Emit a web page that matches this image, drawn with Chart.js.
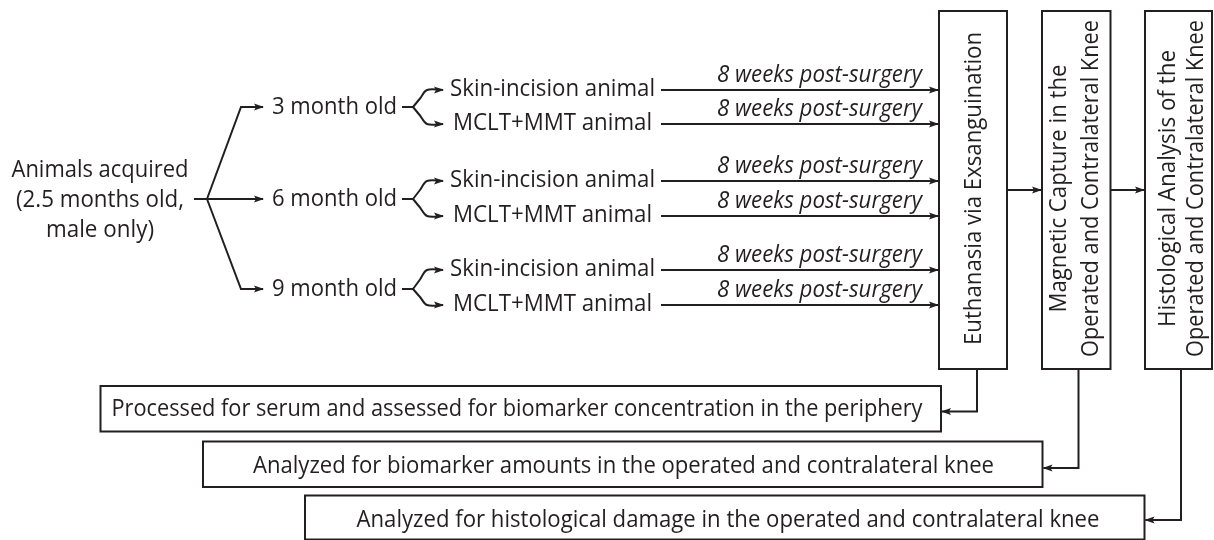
<!DOCTYPE html>
<html>
<head>
<meta charset="utf-8">
<style>
  html, body { margin: 0; padding: 0; background: #fff; }
  #flow { display: block; }
</style>
<script src="https://cdn.jsdelivr.net/npm/chart.js@4/dist/chart.umd.min.js"></script>
</head>
<body>
<canvas id="flow" width="1214" height="540"></canvas>
<script>
const sourceLines = ['Animals acquired', '(2.5 months old,', 'male only)'];
const ageGroups = ['3 month old', '6 month old', '9 month old'];
const treatmentArms = ['Skin-incision animal', 'MCLT+MMT animal'];
const followUp = '8 weeks post-surgery';
const stageLines = [
  ['Euthanasia via Exsanguination'],
  ['Magnetic Capture in the', 'Operated and Contralateral Knee'],
  ['Histological Analysis of the', 'Operated and Contralateral Knee'],
];
const outcomes = [
  'Processed for serum and assessed for biomarker concentration in the periphery',
  'Analyzed for biomarker amounts in the operated and contralateral knee',
  'Analyzed for histological damage in the operated and contralateral knee',
];

// layout in canvas units (x 0-1214, y 0-540 from the top)
const layout = {
  source: { x: 100, y: [170, 200, 230], w: [177, 168, 108] },
  fork: { stub: 194, branch: 207, elbow: 241, tip: 263 },
  ageY: [107, 199, 289],
  age: { x: 334.5, w: 125, stubStart: 402, stubEnd: 413, bend: 420, tip: 443 },
  armY: [[90, 124], [181, 216], [270, 305]],
  arm: { x: 552.5, w: [205, 199], lineStart: 661, lineEnd: 938 },
  followUp: { x: 819.5, w: 205, dy: -15 },
  stageTop: 11,
  stageBottom: 369,
  stageLinkY: 190,
  stages: [
    { x0: 939, x1: 1007, tx: [974], len: [313] },
    { x0: 1042, x1: 1110.5, tx: [1059, 1091], len: [248, 337] },
    { x0: 1145, x1: 1212, tx: [1168, 1196], len: [277, 337] },
  ],
  stageTextY: 188.5,
  outcomes: [
    { x0: 100.5, x1: 941, y0: 386, y1: 431.5, tx: 517, tw: 811, ty: 409, ay: 411.5, dropX: 977 },
    { x0: 203, x1: 1042.5, y0: 441.5, y1: 487, tx: 623.5, tw: 741, ty: 466.5, ay: 468, dropX: 1078.5 },
    { x0: 305, x1: 1144.5, y0: 495.5, y1: 539.5, tx: 728, tw: 743, ty: 520.5, ay: 520, dropX: 1181 },
  ],
};

const ink = '#231f20';
const fontMain = '24px "Open Sans"';
const fontItalic = 'italic 23px "Open Sans"';

const datasets = [];
const line = (pts, extra = {}) => {
  datasets.push({
    data: pts.map(([x, y]) => ({ x, y })),
    showLine: true,
    borderColor: ink,
    borderWidth: 2,
    borderJoinStyle: 'miter',
    pointRadius: 0,
    clip: false,
    tension: 0,
    arrow: true,
    ...extra,
  });
};
const box = (x0, y0, x1, y1) => line([[x0, y0], [x1, y0], [x1, y1], [x0, y1], [x0, y0], [x1, y0]], { arrow: false });

// source -> age groups
const F = layout.fork;
const [y3, y6, y9] = layout.ageY;
line([[F.stub, y6], [F.tip, y6]]);
line([[F.branch, y6], [F.elbow, y3], [F.tip, y3]]);
line([[F.branch, y6], [F.elbow, y9], [F.tip, y9]]);

// age groups -> treatment arms -> euthanasia
const A = layout.age;
layout.ageY.forEach((gy, g) => {
  line([[A.stubStart, gy], [A.stubEnd, gy]], { arrow: false });
  layout.armY[g].forEach((ay) => {
    line([[A.stubEnd, gy], [A.bend, (gy + ay) / 2], [A.bend + 7, ay], [A.tip, ay]], { tension: 0.35 });
    line([[layout.arm.lineStart, ay], [layout.arm.lineEnd, ay]]);
  });
});

// stage boxes and links
layout.stages.forEach((s, i) => {
  box(s.x0, layout.stageTop, s.x1, layout.stageBottom);
  const next = layout.stages[i + 1];
  if (next) line([[s.x1, layout.stageLinkY], [next.x0 - 1, layout.stageLinkY]]);
});

// outcome boxes and drops
layout.outcomes.forEach((o) => {
  box(o.x0, o.y0, o.x1, o.y1);
  line([[o.dropX, layout.stageBottom], [o.dropX, o.ay], [o.x1 + 1, o.ay]]);
});

const fitText = (ctx, text, cx, cy, width, font, upright) => {
  ctx.save();
  ctx.font = font;
  const w = ctx.measureText(text).width;
  ctx.translate(cx, cy);
  if (upright) ctx.rotate(-Math.PI / 2);
  ctx.scale(width / w, 1);
  ctx.fillStyle = ink;
  ctx.textAlign = 'center';
  ctx.textBaseline = 'middle';
  ctx.fillText(text, 0, 0);
  ctx.restore();
};

const arrowHeads = {
  id: 'arrowHeads',
  afterDatasetsDraw(chart) {
    const { ctx } = chart;
    chart.data.datasets.forEach((ds, i) => {
      if (!ds.arrow) return;
      const pts = chart.getDatasetMeta(i).data;
      const tip = pts[pts.length - 1];
      const prev = pts[pts.length - 2];
      const ang = Math.atan2(tip.y - prev.y, tip.x - prev.x);
      ctx.save();
      ctx.translate(tip.x, tip.y);
      ctx.rotate(ang);
      ctx.fillStyle = ink;
      ctx.beginPath();
      ctx.moveTo(1, 0);
      ctx.lineTo(-9, -3.6);
      ctx.lineTo(-7, 0);
      ctx.lineTo(-9, 3.6);
      ctx.closePath();
      ctx.fill();
      ctx.restore();
    });
  },
};

const labels = {
  id: 'labels',
  afterDatasetsDraw(chart) {
    const { ctx } = chart;
    const { x, y } = chart.scales;
    const wx = (c, w) => Math.abs(x.getPixelForValue(c + w) - x.getPixelForValue(c));
    const wy = (c, w) => Math.abs(y.getPixelForValue(c + w) - y.getPixelForValue(c));

    const S = layout.source;
    sourceLines.forEach((t, i) => fitText(ctx, t, x.getPixelForValue(S.x), y.getPixelForValue(S.y[i]), wx(S.x, S.w[i]), fontMain));

    ageGroups.forEach((t, g) => {
      fitText(ctx, t, x.getPixelForValue(A.x), y.getPixelForValue(layout.ageY[g]), wx(A.x, A.w), fontMain);
      layout.armY[g].forEach((ay, k) => {
        const M = layout.arm;
        fitText(ctx, treatmentArms[k], x.getPixelForValue(M.x), y.getPixelForValue(ay - 1), wx(M.x, M.w[k]), fontMain);
        const U = layout.followUp;
        fitText(ctx, followUp, x.getPixelForValue(U.x), y.getPixelForValue(ay + U.dy), wx(U.x, U.w), fontItalic);
      });
    });

    layout.stages.forEach((s, i) => {
      stageLines[i].forEach((t, k) => {
        fitText(ctx, t, x.getPixelForValue(s.tx[k]), y.getPixelForValue(layout.stageTextY), wy(layout.stageTextY, s.len[k]), fontMain, true);
      });
    });

    layout.outcomes.forEach((o, i) => {
      fitText(ctx, outcomes[i], x.getPixelForValue(o.tx), y.getPixelForValue(o.ty), wx(o.tx, o.tw), fontMain);
    });
  },
};

const draw = () => {
  const ctx = document.getElementById('flow').getContext('2d');
  // eslint-disable-next-line no-undef, no-unused-vars
  const chart = new Chart(ctx, {
    type: 'scatter',
    data: { datasets },
    options: {
      responsive: false,
      animation: false,
      events: [],
      layout: { padding: 0 },
      plugins: { legend: { display: false }, tooltip: { enabled: false } },
      scales: {
        x: { type: 'linear', min: 0, max: 1214, display: false },
        y: { type: 'linear', min: 0, max: 540, reverse: true, display: false },
      },
    },
    plugins: [arrowHeads, labels],
  });
};

Promise.all([document.fonts.load(fontMain), document.fonts.load(fontItalic)]).then(draw, draw);
</script>
</body>
</html>
